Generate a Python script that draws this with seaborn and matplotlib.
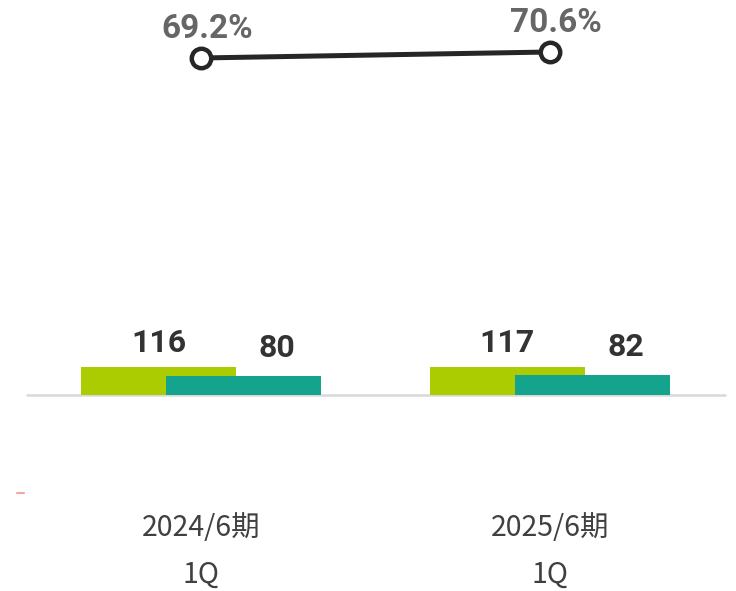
import numpy as np
import seaborn as sns
import matplotlib.pyplot as plt
from matplotlib.lines import Line2D

# values
periods = ["2024/6期\n1Q", "2025/6期\n1Q"]
sales = [116, 117]      # green bars
profit = [80, 82]       # teal bars
ratio = [69.2, 70.6]    # line, %

green = "#AACC00"
teal = "#14A38D"

sns.set_theme(style="white")
plt.rcParams['font.family'] = ['Roboto', 'Noto Sans CJK JP', 'DejaVu Sans']

fig = plt.figure(figsize=(7.36, 5.91), dpi=100)
ax = fig.add_axes([0, 196 / 591, 1, 395 / 591])

pos = np.arange(len(periods))
shift = 0.1218  # bars overlap, second bar offset to the right

sns.barplot(x=pos - shift, y=sales, native_scale=True, width=0.444, color=green,
            saturation=1, errorbar=None, linewidth=0, ax=ax)
sns.barplot(x=pos + shift, y=profit, native_scale=True, width=0.444, color=teal,
            saturation=1, errorbar=None, linewidth=0, ax=ax)

ax.set_xlim(-0.576, 1.533)
ax.set_ylim(0, 1636)

# bar value labels
for x, v in zip(pos - shift, sales):
    ax.annotate(f"{v}", (x, v), xytext=(0, 10.8), textcoords="offset points",
                ha="center", va="baseline", fontsize=23, weight="bold", color="#333333")
for x, v in zip(pos + shift, profit):
    ax.annotate(f"{v}", (x, v), xytext=(24, 13.7), textcoords="offset points",
                ha="center", va="baseline", fontsize=23, weight="bold", color="#333333")

# baseline
ax.axhline(0, xmin=27 / 736, xmax=725 / 736, color="#d9d9d9", lw=1.8,
           clip_on=False, zorder=0.5)

# ratio line on its own scale
ax2 = ax.twinx()
sns.lineplot(x=pos, y=ratio, ax=ax2, color="#262626", lw=3.6, marker="o",
             markersize=14, markerfacecolor="white", markeredgecolor="#262626",
             markeredgewidth=3.2)
ax2.set_ylim(-9.43, 82.73)
for x, v in zip(pos, ratio):
    ax2.annotate(f"{v}%", (x, v), xytext=(4.5, 14.4), textcoords="offset points",
                 ha="center", va="baseline", fontsize=24, weight="bold", color="#666666")

for a in (ax, ax2):
    for s in a.spines.values():
        s.set_visible(False)
    a.set_yticks([])
    a.set_ylabel("")

ax.set_xticks(pos, periods)
ax.tick_params(axis="x", length=0, pad=85, labelsize=20.5, labelcolor="#404040")
for t in ax.get_xticklabels():
    t.set_family(['Noto Sans CJK JP', 'DejaVu Sans'])
    t.set_linespacing(1.74)

# small stray mark at the lower left of the original
fig.add_artist(Line2D([17 / 736, 24 / 736], [1 - 493 / 591] * 2, color="#f5a3a3", lw=1.5))

fig.savefig("out.png", dpi=100)
